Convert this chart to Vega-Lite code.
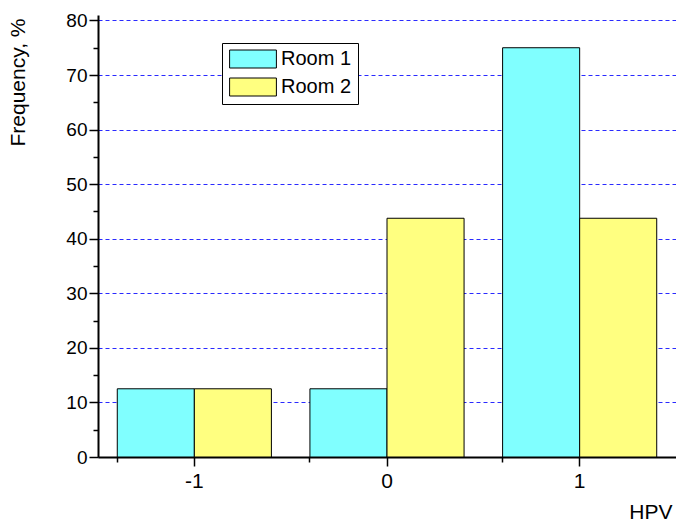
{
  "$schema": "https://vega.github.io/schema/vega-lite/v6.json",
  "autosize": {"type": "none"},
  "padding": {"left": 98, "top": 15, "right": 0, "bottom": 65},
  "width": 578,
  "height": 442,
  "background": "white",
  "config": {
    "view": {"stroke": null},
    "font": "Liberation Sans",
    "axis": {"labelFont": "Liberation Sans", "titleFont": "Liberation Sans", "labelFontSize": 19, "titleFontSize": 21, "titleFontWeight": "normal", "labelColor": "black", "titleColor": "black", "domainColor": "black", "tickColor": "black"}
  },
  "data": {"values": [
    {"HPV": "-1", "Room": "Room 1", "Frequency": 12.5},
    {"HPV": "-1", "Room": "Room 2", "Frequency": 12.5},
    {"HPV": "0", "Room": "Room 1", "Frequency": 12.5},
    {"HPV": "0", "Room": "Room 2", "Frequency": 43.75},
    {"HPV": "1", "Room": "Room 1", "Frequency": 75},
    {"HPV": "1", "Room": "Room 2", "Frequency": 43.75}
  ]},
  "resolve": {"axis": {"x": "independent", "y": "independent"}},
  "layer": [
    {
      "mark": {"type": "bar", "stroke": "black", "strokeWidth": 1, "opacity": 1},
      "encoding": {
        "x": {"field": "HPV", "type": "nominal", "sort": ["-1", "0", "1"],
          "scale": {"paddingInner": 0.2, "paddingOuter": 0.1},
          "axis": {"title": "HPV", "orient": "bottom", "labelAngle": 0, "labelFontSize": 21, "titleFontSize": 21, "domainWidth": 2, "tickWidth": 1.5, "tickSize": 9, "labelPadding": 4, "titleX": 574, "titleY": 55, "titleAlign": "right", "titleBaseline": "middle", "titleAnchor": null}},
        "xOffset": {"field": "Room", "type": "nominal", "scale": {"paddingInner": 0, "paddingOuter": 0}},
        "y": {"field": "Frequency", "type": "quantitative",
          "scale": {"domain": [0, 81], "nice": false},
          "axis": {"title": "Frequency, %", "values": [0, 10, 20, 30, 40, 50, 60, 70, 80], "grid": true, "gridColor": "#2a2aff", "gridDash": [4, 3], "gridWidth": 1, "domainWidth": 2, "tickWidth": 1.5, "tickSize": 9, "labelPadding": 2, "titleAngle": 270, "titleX": -80, "titleY": 3, "titleAlign": "right", "titleBaseline": "middle", "titleAnchor": null}},
        "color": {"field": "Room", "type": "nominal",
          "scale": {"range": ["#80FFFF", "#FFFF80"]},
          "legend": {"title": null, "orient": "none", "legendX": 124, "legendY": 28, "strokeColor": "black", "fillColor": "white", "padding": 6, "labelFontSize": 20, "labelFont": "Liberation Sans", "labelColor": "black", "labelOffset": 18, "rowPadding": 6, "symbolType": "M-2.6,-1H2.6V1H-2.6Z", "symbolSize": 324, "symbolOffset": 15, "symbolStrokeColor": "black", "symbolStrokeWidth": 1, "symbolOpacity": 1}}
      }
    },
    {
      "mark": {"type": "bar", "opacity": 0},
      "encoding": {
        "x": {"field": "HPV", "type": "nominal", "sort": ["-1", "0", "1"],
          "axis": {"title": null, "orient": "bottom", "labels": false, "domain": false, "bandPosition": 0, "tickSize": 5, "tickWidth": 1.5, "grid": false}},
        "y": {"field": "Frequency", "type": "quantitative",
          "axis": {"title": null, "labels": false, "domain": false, "values": [5, 15, 25, 35, 45, 55, 65, 75], "tickSize": 5, "tickWidth": 1.5, "grid": false, "orient": "left"}}
      }
    }
  ]
}
